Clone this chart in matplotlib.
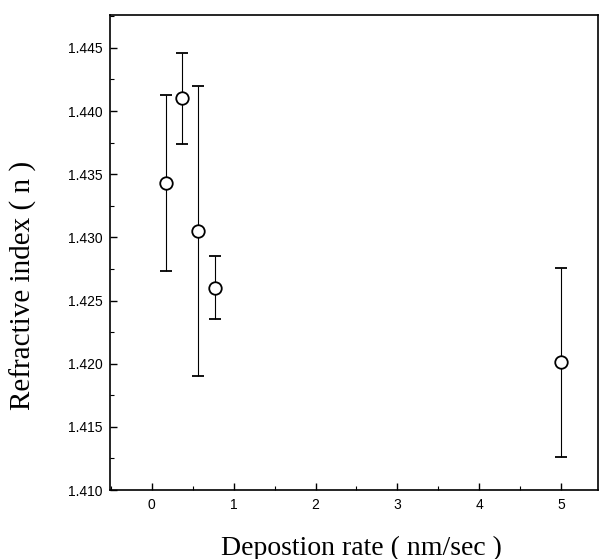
import matplotlib
matplotlib.use("Agg")
import matplotlib.pyplot as plt
from matplotlib.ticker import MultipleLocator, FormatStrFormatter

# deposition rate (nm/sec) and refractive index
rate = [0.18, 0.37, 0.57, 0.77, 5.0]
index = [1.4343, 1.4410, 1.4305, 1.4260, 1.4201]
err = [0.0070, 0.0036, 0.0115, 0.0025, 0.0075]

fig = plt.figure(figsize=(6.0, 5.59), dpi=100)
ax = fig.add_axes([110/600, 1 - 490/559, 488/600, 475/559])

ax.errorbar(rate, index, yerr=err, fmt="o", ms=9, mfc="white", mec="black",
            mew=1.3, ecolor="black", elinewidth=0.8, capsize=4.5, capthick=0.8)

ax.set_xlim(-0.51, 5.45)
ax.set_ylim(1.410, 1.4476)
ax.xaxis.set_major_locator(MultipleLocator(1))
ax.xaxis.set_minor_locator(MultipleLocator(0.5))
ax.yaxis.set_major_locator(MultipleLocator(0.005))
ax.yaxis.set_minor_locator(MultipleLocator(0.0025))
ax.yaxis.set_major_formatter(FormatStrFormatter("%.3f"))
ax.tick_params(which="both", direction="in", top=False, right=False,
               labelsize=10, pad=5.5)
ax.tick_params(which="major", length=5, width=1)
ax.tick_params(which="minor", length=3, width=0.8)
for lbl in ax.get_xticklabels() + ax.get_yticklabels():
    lbl.set_family("Liberation Sans")
for s in ax.spines.values():
    s.set_linewidth(1.2)

ax.set_xlabel("Depostion rate ( nm/sec )", family="Liberation Serif",
              fontsize=20, va="center")
ax.set_ylabel("Refractive index ( n )", family="Liberation Serif",
              fontsize=21, va="center")
ax.xaxis.set_label_coords(0.516, -0.122)
ax.yaxis.set_label_coords(-0.178, 0.43)

fig.savefig("out.png", dpi=100)
